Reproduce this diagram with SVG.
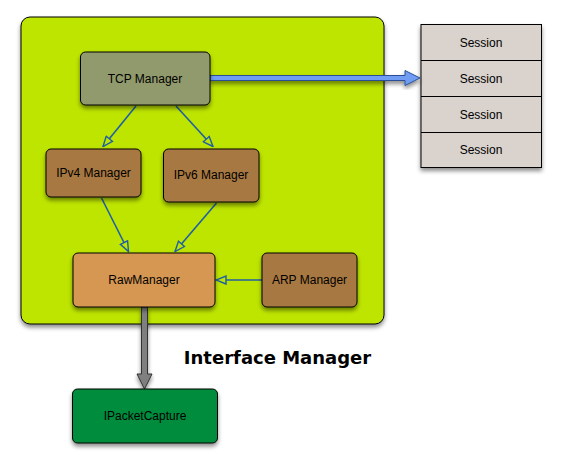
<svg xmlns="http://www.w3.org/2000/svg" width="561" height="467" viewBox="0 0 561 467">
<defs>
<filter id="sh" x="-20%" y="-20%" width="140%" height="150%">
<feDropShadow dx="0" dy="3" stdDeviation="2.2" flood-color="#000" flood-opacity="0.45"/>
</filter>
<marker id="open" viewBox="0 0 12 10" refX="11" refY="5" markerWidth="12" markerHeight="10" markerUnits="userSpaceOnUse" orient="auto">
<path d="M1,1 L11,5 L1,9 Z" fill="#bee500" stroke="#1f5fa6" stroke-width="1.4" stroke-linejoin="miter"/>
</marker>
<style>
.n{stroke:#000;stroke-width:1;filter:url(#sh)}
.t{font-family:"Liberation Sans",Arial,sans-serif;font-size:12px;fill:#000;text-anchor:middle;dominant-baseline:central}
.c{fill:none;stroke:#1f5fa6;stroke-width:1.6;marker-end:url(#open)}
</style>
</defs>
<rect width="561" height="467" fill="#fff"/>
<g id="interface-manager">
<rect x="21" y="17" width="363" height="307" rx="9" fill="#bee500" class="n"/>
<text x="277.5" y="364" font-family="DejaVu Sans,Verdana,sans-serif" font-weight="bold" font-size="18" text-anchor="middle" fill="#000">Interface Manager</text>
</g>
<g id="sessions">
<rect x="421" y="24.5" width="120.5" height="143" fill="#d9d2cd" class="n"/>
<line x1="421" y1="60.5" x2="541.5" y2="60.5" stroke="#000"/>
<line x1="421" y1="96.5" x2="541.5" y2="96.5" stroke="#000"/>
<line x1="421" y1="132.5" x2="541.5" y2="132.5" stroke="#000"/>
<text class="t" x="481" y="42.5">Session</text>
<text class="t" x="481" y="78.5">Session</text>
<text class="t" x="481" y="114.5">Session</text>
<text class="t" x="481" y="150">Session</text>
</g>
<g id="connectors">
<line class="c" x1="136" y1="106" x2="103" y2="146.5"/>
<line class="c" x1="176" y1="106" x2="213" y2="146.5"/>
<line class="c" x1="101.5" y1="198" x2="128.5" y2="251.5"/>
<line class="c" x1="216.5" y1="203" x2="175" y2="251.5"/>
<line class="c" x1="262" y1="280" x2="216" y2="280"/>
<path d="M210,75.5 L405,75.5 L405,70.5 L420,78 L405,85.5 L405,80.5 L210,80.5 Z" fill="#6f9cf4" stroke="#2b4f96" stroke-width="1" filter="url(#sh)"/>
<path d="M141.5,307 L141.5,374 L137,374 L144.5,389 L152,374 L147.5,374 L147.5,307 Z" fill="#7f7f7f" stroke="#333" stroke-width="1" filter="url(#sh)"/>
</g>
<g id="tcp-manager">
<rect x="80.5" y="52" width="129.5" height="53" rx="5" fill="#919a6c" class="n"/>
<text class="t" x="145" y="78.5">TCP Manager</text>
</g>
<g id="ipv4-manager">
<rect x="46" y="149" width="95" height="48" rx="5" fill="#a87842" class="n"/>
<text class="t" x="93.5" y="172.5">IPv4 Manager</text>
</g>
<g id="ipv6-manager">
<rect x="163.5" y="149" width="95.5" height="53" rx="5" fill="#a87842" class="n"/>
<text class="t" x="211" y="175">IPv6 Manager</text>
</g>
<g id="raw-manager">
<rect x="73" y="253" width="142" height="54" rx="5" fill="#d69752" class="n"/>
<text class="t" x="144" y="280">RawManager</text>
</g>
<g id="arp-manager">
<rect x="262" y="253" width="95" height="54" rx="5" fill="#a87842" class="n"/>
<text class="t" x="309.5" y="280">ARP Manager</text>
</g>
<g id="ipacketcapture">
<rect x="72.5" y="389" width="145" height="54" rx="5" fill="#008c3c" class="n"/>
<text class="t" x="145" y="415.5">IPacketCapture</text>
</g>
</svg>
